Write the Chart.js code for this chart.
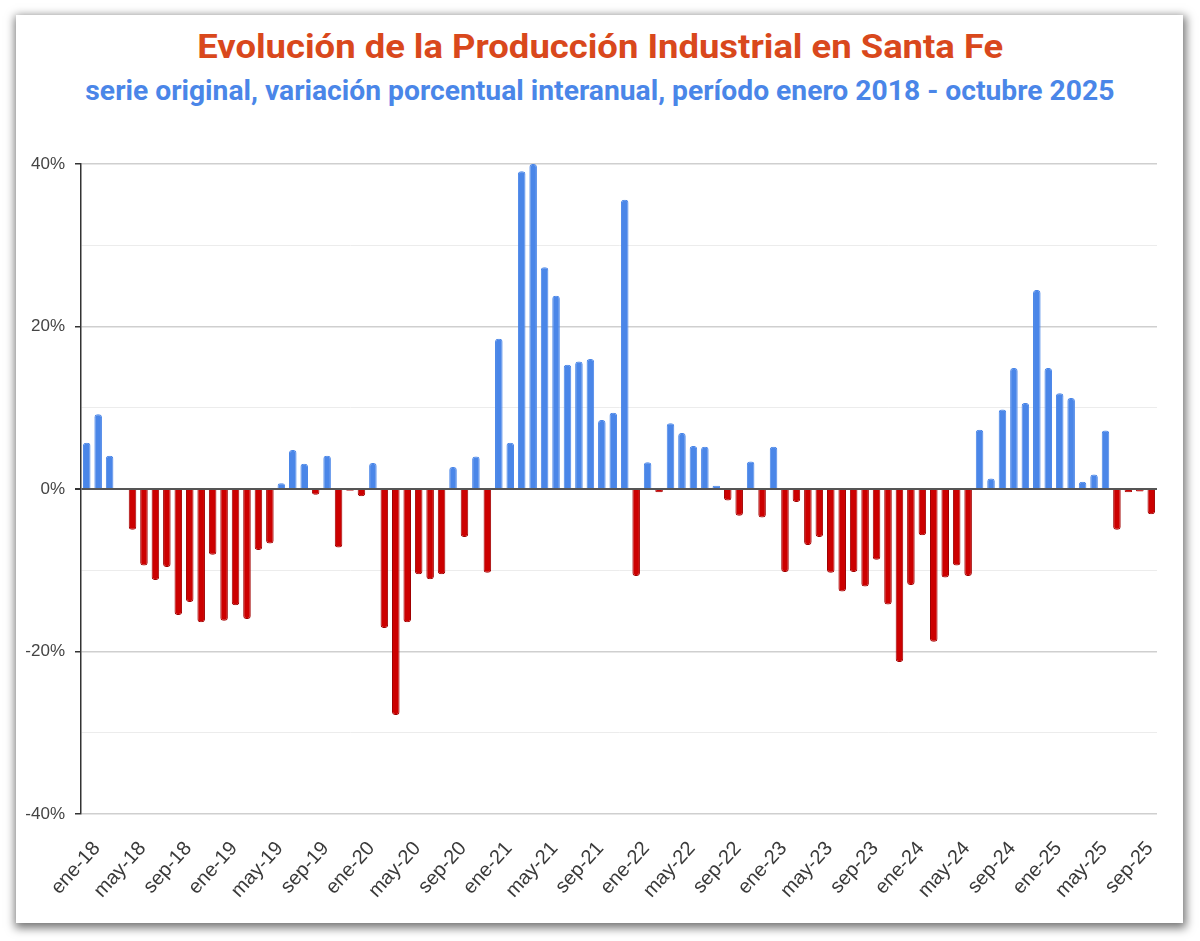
<!DOCTYPE html>
<html><head><meta charset="utf-8">
<script src="https://cdn.jsdelivr.net/npm/chart.js@4"></script>
<style>
html,body{margin:0;padding:0;background:#fff;width:1200px;height:941px;overflow:hidden;}
#card{position:absolute;left:16px;top:15px;width:1167px;height:908px;background:#fff;box-shadow:1px 3px 9px 2px rgba(0,0,0,0.55);}
.t{position:absolute;left:0;width:1200px;text-align:center;font-family:Roboto,sans-serif;font-weight:700;white-space:nowrap;line-height:1;}
.t span{display:inline-block;transform-origin:50% 50%;}
#title{top:29px;font-size:34px;color:#D9481C;}
#sub{top:78px;font-size:27px;color:#4A86E8;}
#c{position:absolute;left:8px;top:130px;}
</style></head>
<body>
<div id="card"></div>
<div class="t" id="title"><span data-w="806">Evolución de la Producción Industrial en Santa Fe</span></div>
<div class="t" id="sub"><span data-w="1029">serie original, variación porcentual interanual, período enero 2018 - octubre 2025</span></div>
<canvas id="c" width="1180" height="790"></canvas>
<script>
// Data (year-on-year % change)
const years = ['18','19','20','21','22','23','24','25'];
const monthNames = ['ene','feb','mar','abr','may','jun','jul','ago','sep','oct','nov','dic'];
const v2018 = [5.7, 9.2, 4.1, 0, -5.0, -9.4, -11.2, -9.6, -15.5, -13.9, -16.4, -8.1];
const v2019 = [-16.2, -14.3, -16.0, -7.5, -6.7, 0.7, 4.8, 3.1, -0.7, 4.1, -7.2, -0.2];
const v2020 = [-0.9, 3.2, -17.1, -27.8, -16.4, -10.5, -11.1, -10.5, 2.7, -5.9, 4.0, -10.3];
const v2021 = [18.5, 5.7, 39.1, 40.0, 27.3, 23.8, 15.3, 15.7, 16.0, 8.5, 9.4, 35.6];
const v2022 = [-10.7, 3.3, -0.4, 8.1, 6.9, 5.3, 5.2, 0.4, -1.4, -3.3, 3.4, -3.5];
const v2023 = [5.2, -10.2, -1.6, -6.9, -5.9, -10.3, -12.6, -10.2, -12.0, -8.7, -14.2, -21.3];
const v2024 = [-11.8, -5.7, -18.8, -10.9, -9.4, -10.7, 7.3, 1.3, 9.8, 14.9, 10.6, 24.5];
const v2025 = [14.9, 11.8, 11.2, 0.9, 1.8, 7.2, -5.0, -0.4, -0.3, -3.1];
const yTickValues = [-40, -20, 0, 20, 40];

const values = [].concat(v2018, v2019, v2020, v2021, v2022, v2023, v2024, v2025);
const labels = values.map((_, i) => monthNames[i % 12] + '-' + years[Math.floor(i / 12)]);

const BLUE = '#4A86E8', RED = '#CC0000', RED_EDGE = '#A00000';

// fit titles to reference widths (condensed look)
document.querySelectorAll('.t span').forEach(s => {
  const w = s.getBoundingClientRect().width;
  s.style.transform = 'scaleX(' + (parseFloat(s.dataset.w) / w) + ')';
});

new Chart(document.getElementById('c'), {
  type: 'bar',
  data: {
    labels: labels,
    datasets: [{
      data: values,
      backgroundColor: values.map(v => v >= 0 ? BLUE : RED),
      borderColor: values.map(v => v >= 0 ? BLUE : RED_EDGE),
      borderWidth: 1,
      borderRadius: 3,
      borderSkipped: 'start',
      barPercentage: 0.66,
      categoryPercentage: 1
    }]
  },
  options: {
    responsive: false,
    animation: false,
    devicePixelRatio: 1,
    layout: { padding: { top: 34, right: 31, left: 0, bottom: 0 } },
    plugins: { legend: { display: false }, tooltip: { enabled: false } },
    scales: {
      x: {
        grid: { display: false },
        border: { display: false },
        ticks: {
          autoSkip: false, maxRotation: 48, minRotation: 48, padding: 15, labelOffset: 10,
          color: '#3a3a3a', font: { family: '"Liberation Sans", Arial, sans-serif', size: 20 },
          callback: (v, i) => (i % 4 === 0 ? labels[i] : '')
        },
        afterFit: s => { s.height = 106; }
      },
      y: {
        min: -40, max: 40,
        ticks: {
          stepSize: 10, padding: 10,
          color: '#444', font: { family: '"Liberation Sans", Arial, sans-serif', size: 17 },
          callback: v => (yTickValues.includes(v) ? v + '%' : '')
        },
        grid: {
          color: c => c.tick.value === 0 ? '#555' : (yTickValues.includes(c.tick.value) ? '#cfcfcf' : '#ececec'),
          lineWidth: c => c.tick.value === 0 ? 2 : (yTickValues.includes(c.tick.value) ? 1.5 : 1),
          tickColor: c => yTickValues.includes(c.tick.value) ? '#333' : 'rgba(0,0,0,0)',
          tickLength: 6
        },
        border: { display: true, color: '#333', width: 1.5 },
        afterFit: s => { s.width = 73; }
      }
    }
  }
});
</script>
</body></html>
